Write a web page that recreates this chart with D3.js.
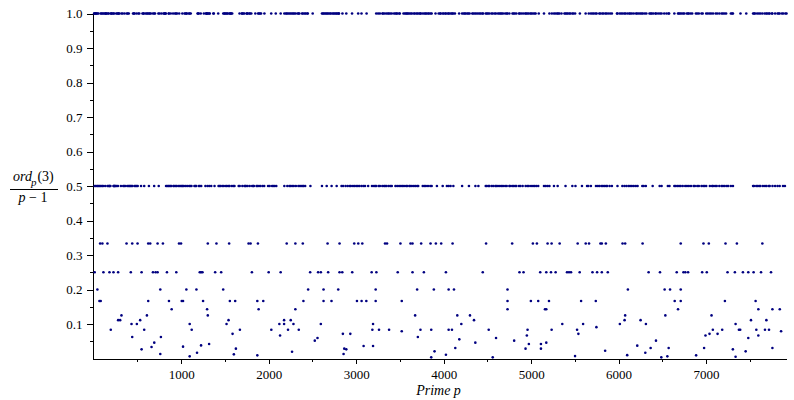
<!DOCTYPE html>
<html lang="en">
<head>
<meta charset="UTF-8">
<title>ord_p(3)/(p-1) for primes p</title>
<style>
  body { margin: 0; background: #fff; }
  svg { display: block; }
  .axis path, .axis line { stroke: #000; shape-rendering: crispEdges; }
  .dot { fill: #000080; }
</style>
</head>
<body>
<div id="chart"></div>
<script src="https://d3js.org/d3.v7.min.js"></script>
<script>
// primes (ratio 1)
const onePrimes = [5, 7, 17, 19, 29, 31, 43, 53, 79, 89, 101, 113, 127, 137, 139, 149, 163, 173, 197, 199,
  211, 223, 233, 257, 269, 281, 283, 293, 317, 331, 353, 379, 389, 401, 449, 461, 463, 487,
  509, 521, 557, 569, 571, 593, 607, 617, 631, 641, 653, 677, 691, 701, 739, 751, 773, 797, 809, 811,
  821, 823, 857, 859, 881, 907, 929, 941, 953, 977, 1013, 1039, 1049, 1061, 1063, 1087, 1097, 1109,
  1187, 1193, 1201, 1223, 1259, 1283, 1289, 1291, 1297, 1307, 1319, 1327, 1367, 1373, 1423,
  1481, 1493, 1499, 1511, 1523, 1531, 1549, 1559, 1567, 1571, 1583,
  1667, 1693, 1697, 1709, 1721, 1747, 1753, 1759, 1777, 1787, 1801, 1847, 1879, 1889, 1901, 1913,
  1951, 2029, 2081, 2137,
  2179, 2197, 2207, 2221, 2237, 2251, 2267, 2281, 2293, 2309, 2333, 2341, 2351, 2381, 2393, 2411, 2423, 2441, 2447,
  2503, 2609, 2621, 2633, 2647, 2659, 2671, 2683, 2699, 2711, 2729, 2741, 2753, 2767, 2777, 2789, 2801, 2803,
  2843, 2887, 2953, 3023, 3061, 3119,
  3229, 3251, 3271, 3299, 3307, 3323, 3343, 3361, 3373, 3389, 3407, 3433, 3449, 3461, 3469, 3491, 3499,
  3541, 3557, 3571, 3581, 3593, 3607, 3623, 3637, 3659, 3671, 3691, 3701, 3719, 3733, 3739, 3761, 3779,
  3793, 3803, 3821, 3833, 3851, 3863, 3907,
  3943, 3959, 3967, 3989, 4001, 4019, 4027, 4049, 4057, 4073, 4091, 4099, 4111, 4129, 4177,
  4211, 4229, 4241, 4253, 4271, 4283, 4297, 4327, 4339, 4357, 4373, 4391, 4409, 4423, 4441, 4451, 4481,
  4493, 4507, 4523, 4547, 4561, 4583, 4597, 4621, 4637, 4651, 4663, 4679, 4703, 4721, 4729, 4751,
  4787, 4799, 4813, 4831, 4861, 4871, 4889, 4909, 4931, 4943, 4957, 4973, 4993, 5003, 5021, 5039, 5051,
  5087, 5147, 5209,
  5237, 5261, 5279, 5297, 5309, 5323, 5347, 5381, 5393, 5407, 5419, 5437, 5449, 5471, 5483, 5503, 5557, 5623,
  5659, 5683, 5701, 5717, 5737, 5749, 5779, 5791, 5813, 5827, 5849, 5861, 5881, 5903, 5923,
  5981, 5987, 6011, 6029, 6047, 6067, 6079, 6101, 6121, 6133, 6151, 6173, 6199, 6211, 6229, 6247, 6263,
  6277, 6299, 6317, 6353, 6367, 6379, 6397, 6421, 6427, 6451, 6473, 6491, 6521, 6547, 6569, 6577, 6637,
  6679, 6689, 6703, 6719, 6737, 6751, 6779, 6793, 6803, 6823, 6841, 6883, 6899, 6917, 6947, 6961,
  7001, 7019, 7039, 7057, 7079, 7109, 7127, 7151, 7177, 7193, 7211, 7229, 7283, 7297, 7307, 7393, 7459,
  7537, 7549, 7559, 7583, 7603, 7621, 7643, 7669, 7687, 7699, 7717, 7727, 7753, 7757, 7789, 7817,
  7829, 7841, 7867, 7883, 7907, 7919];

// primes
const halfPrimes = [11, 23, 37, 47, 59, 71, 83, 97, 107, 131, 157, 167, 179, 181, 191, 227, 229, 239, 241, 251, 263, 277,
  311, 337, 347, 359, 383, 397, 409, 419, 431, 443, 467, 479, 491, 503, 541, 577, 631, 691, 743,
  827, 839, 853, 863, 877, 887, 911, 919, 937, 947, 967, 983, 997, 1009, 1019, 1031, 1051, 1069, 1091,
  1103, 1117, 1151, 1163, 1171, 1201, 1213, 1229, 1277, 1301, 1321, 1343, 1381,
  1427, 1439, 1451, 1471, 1487, 1511, 1523, 1543, 1553, 1579, 1597, 1609,
  1657, 1669, 1699, 1723, 1733, 1741, 1759, 1783, 1811, 1823, 1831, 1861, 1871, 1889, 1907, 1931, 1949,
  1993, 2011, 2039, 2053, 2069, 2087, 2179,
  2213, 2237, 2251, 2269, 2287, 2311, 2339, 2357, 2371, 2389, 2399, 2417, 2477, 2609,
  2663, 2719, 2777, 2833, 2851, 2879, 2903, 2927, 2939, 2963, 2981, 3001, 3019, 3037, 3061, 3083, 3101, 3137,
  3181, 3203, 3217, 3229, 3257, 3271, 3299, 3319, 3331, 3347, 3371, 3391, 3407,
  3449, 3469, 3491, 3511, 3529, 3547, 3571, 3583, 3607, 3617, 3637, 3659, 3677, 3697, 3709,
  3761, 3779, 3797, 3821, 3847, 3863, 3923, 3989, 4037, 4057, 4079, 4111, 4211, 4289, 4363, 4397,
  4481, 4493, 4513, 4523, 4549, 4567, 4591, 4603, 4621, 4643, 4663, 4679, 4703, 4721, 4751, 4759,
  4783, 4799, 4817, 4831, 4861, 4877, 4903, 4937, 4957, 4973, 4999, 5021, 5039, 5059, 5081,
  5147, 5167, 5189, 5209, 5261, 5303, 5393, 5471, 5507, 5581, 5639, 5653, 5683,
  5741, 5763, 5783, 5807, 5821, 5839, 5857, 5869, 5897, 5923, 5987,
  6043, 6067, 6089, 6113, 6131, 6151, 6173, 6197, 6217, 6271, 6287, 6311, 6389, 6469, 6491, 6563, 6581,
  6637, 6653, 6673, 6691, 6709, 6733, 6761, 6781, 6803, 6827, 6857, 6871, 6899, 6917, 6947, 6967, 6983, 7001,
  7043, 7069, 7079, 7103, 7121, 7151, 7177, 7193, 7213, 7237, 7253, 7283, 7307,
  7537, 7547, 7573, 7589, 7607, 7621, 7649, 7673, 7691, 7717, 7727, 7759, 7789, 7817, 7841, 7879, 7901];

// rows below 0.5
const thirdPrimes = [73, 99, 157, 375, 440, 501, 623, 646, 730, 791, 975, 998, 1304, 1403, 1548, 1770, 1793, 1877,
  2206, 2305, 2390, 2673, 2810, 2978, 3024, 3070, 3330, 3353, 3506, 3621, 3644, 3743, 3850, 3911, 3972, 4102,
  4485, 4783, 5020, 5066, 5188, 5234, 5326, 5532, 5624, 5662, 5792, 5808, 5854, 6045, 6075, 6274, 6710,
  6970, 7031, 7222, 7352, 7643];
const quarterPrimes = [11, 111, 180, 226, 279, 424, 547, 677, 707, 730, 837, 944, 1212, 1227, 1243, 1388, 1457,
  1808, 2000, 2137, 2474, 2565, 2596, 2680, 2810, 2841, 2955, 3177, 3231, 3475, 3644, 3774, 4026, 4447,
  4867, 4913, 5104, 5173, 5227, 5280, 5410, 5433, 5456, 5555, 5701, 5754, 5808, 5876, 6343, 6473, 6664,
  6741, 6763, 6794, 6955, 7008, 7245, 7329, 7421, 7482, 7543, 7628, 7742];
const fifthPrimes = [42, 761, 1059, 1174, 1480, 2451, 2627, 2795, 3223, 3697, 3888, 4057, 4118, 4730, 6106, 6526, 6588, 6710];
const sixthPrimes = [65, 80, 623, 860, 1006, 1021, 1250, 1556, 1617, 1870, 1938, 2397, 2627, 2718, 3009, 3062, 3116,
  3223, 3521, 4730, 4997, 5081, 5204, 5571, 5739, 6641, 6710, 7215, 7566];
const seventhPrimes = [891, 1296, 1885, 2305, 4730, 5158, 5173, 6679, 7597, 7758, 7842];
const eighthPrimes = [317, 608, 1304, 3674, 4156, 4301, 6075, 6534, 7062];
const ninthPrimes = [279, 302, 531, 1541, 2176, 2252, 4347, 6068, 6251, 7513, 7689];
const tenthPrimes = [432, 493, 1097, 1518, 2122, 2176, 2283, 2596, 3193, 4202, 5356, 5594, 6014, 6312, 7337];
const twelfthPrimes = [195, 577, 1120, 1671, 2030, 2221, 2344, 3185, 3261, 3376, 3735, 3858, 4057, 4095, 4515, 4959,
  5234, 5525, 7077, 7184, 7375, 7390, 7574, 7673, 7719];
const fourteenthPrimes = [1587, 2848, 2933, 5540, 7039, 7131];
const fifteenthPrimes = [2130, 4951, 6993, 7597];
const sixteenthPrimes = [440, 768, 3705];

// remaining small ratios, read one by one
const scatterPrimes = [5746, 3521, 7857, 2558, 4599, 7482, 4179, 2527, 4806, 6427, 692, 4362, 5173,
  1319, 4974, 5112, 1227, 6213, 3085, 3193, 1021, 661, 4133, 6366, 6572, 6977, 7758,
  1625, 2864, 4936, 5112, 547, 2887, 7306, 5846, 3896, 7452, 2267, 1181, 6305,
  761, 2856, 1602, 4026, 6098, 1870, 6886, 5502, 1097, 6557, 7337, 3858, 4561, 6488];
const scatterRatios = [0.0909, 0.079, 0.079, 0.0594, 0.0594, 0.0594, 0.0555, 0.0517, 0.0517, 0.0517, 0.0459, 0.0459, 0.0459,
  0.042, 0.042, 0.042, 0.038, 0.0372, 0.0362, 0.0362, 0.0343, 0.0333, 0.0304, 0.0304, 0.0304, 0.0304, 0.0304,
  0.0285, 0.0285, 0.0285, 0.0285, 0.0265, 0.0265, 0.0265, 0.0226, 0.0207, 0.0207, 0.0197, 0.0168, 0.0168,
  0.013, 0.013, 0.012, 0.011, 0.0097, 0.0091, 0.0091, 0.007, 0.0062, 0.0062, 0.0052, 0.0033, 0.0033, 0.0033];

const xTicks = [1000, 2000, 3000, 4000, 5000, 6000, 7000];
const xMinorTicks = [500, 1500, 2500, 3500, 4500, 5500, 6500, 7500];
const yTicks = [0.1, 0.2, 0.3, 0.4, 0.5, 0.6, 0.7, 0.8, 0.9, 1.0];
const yMinorTicks = [0.05, 0.15, 0.25, 0.35, 0.45, 0.55, 0.65, 0.75, 0.85, 0.95];

const rows = [
  [1, onePrimes], [1 / 2, halfPrimes], [1 / 3, thirdPrimes], [1 / 4, quarterPrimes], [1 / 5, fifthPrimes],
  [1 / 6, sixthPrimes], [1 / 7, seventhPrimes], [1 / 8, eighthPrimes], [1 / 9, ninthPrimes],
  [1 / 10, tenthPrimes], [1 / 12, twelfthPrimes], [1 / 14, fourteenthPrimes], [1 / 15, fifteenthPrimes],
  [1 / 16, sixteenthPrimes]
];
const points = [];
rows.forEach(([r, ps]) => ps.forEach(p => points.push({ p: p, r: r })));
scatterPrimes.forEach((p, i) => points.push({ p: p, r: scatterRatios[i] }));

const serif = "'Liberation Serif', 'Times New Roman', Times, 'DejaVu Serif', serif";
const width = 794;
const height = 400;

const svg = d3.select("#chart").append("svg")
    .attr("width", width)
    .attr("height", height)
    .style("font-family", serif);

const x = d3.scaleLinear().domain([-14, 7919]).range([92.5, 786.5]);
const y = d3.scaleLinear().domain([0, 1]).range([358.5, 13.5]);

function styleTicks(g) {
    g.attr("font-family", null).attr("font-size", null);
    g.selectAll("text")
        .style("font-family", serif)
        .style("font-size", "13px")
        .attr("fill", "#000");
}

// x axis
svg.append("g")
    .attr("class", "axis")
    .attr("transform", `translate(0,${y(0)})`)
    .call(d3.axisBottom(x).tickValues(xMinorTicks).tickSize(3).tickSizeOuter(0).tickFormat(""));
svg.append("g")
    .attr("class", "axis")
    .attr("transform", `translate(0,${y(0)})`)
    .call(d3.axisBottom(x).tickValues(xTicks).tickSize(5).tickSizeOuter(0).tickPadding(6).tickFormat(d3.format("d")))
    .call(styleTicks);

// y axis
svg.append("g")
    .attr("class", "axis")
    .attr("transform", `translate(${x(-14)},0)`)
    .call(d3.axisLeft(y).tickValues(yMinorTicks).tickSize(3).tickSizeOuter(0).tickFormat(""));
svg.append("g")
    .attr("class", "axis")
    .attr("transform", `translate(${x(-14)},0)`)
    .call(d3.axisLeft(y).tickValues(yTicks).tickSize(6).tickSizeOuter(0).tickPadding(4).tickFormat(d3.format(".1f")))
    .call(styleTicks);

// the points
svg.append("g")
    .selectAll("circle")
    .data(points)
    .enter()
    .append("circle")
    .attr("class", "dot")
    .attr("cx", d => x(d.p))
    .attr("cy", d => y(d.r))
    .attr("r", 1.3);

// axis titles
svg.append("text")
    .attr("x", 438.5)
    .attr("y", 395)
    .attr("text-anchor", "middle")
    .style("font-family", serif)
    .style("font-size", "14px")
    .style("font-style", "italic")
    .text("Prime p");

const num = svg.append("text")
    .attr("x", 13)
    .attr("y", 181)
    .style("font-family", serif)
    .style("font-size", "14px");
num.append("tspan").style("font-style", "italic").text("ord");
num.append("tspan").style("font-style", "italic").attr("dx", -1).attr("dy", 5).style("font-size", "11px").text("p");
num.append("tspan").attr("dy", -5).attr("dx", 1).text("(3)");
svg.append("line")
    .attr("x1", 10).attr("x2", 58)
    .attr("y1", 189.5).attr("y2", 189.5)
    .attr("stroke", "#000");
const den = svg.append("text")
    .attr("x", 33)
    .attr("y", 202)
    .attr("text-anchor", "middle")
    .style("font-family", serif)
    .style("font-size", "14px");
den.append("tspan").style("font-style", "italic").text("p");
den.append("tspan").text(" \u2212 1");
</script>
</body>
</html>
